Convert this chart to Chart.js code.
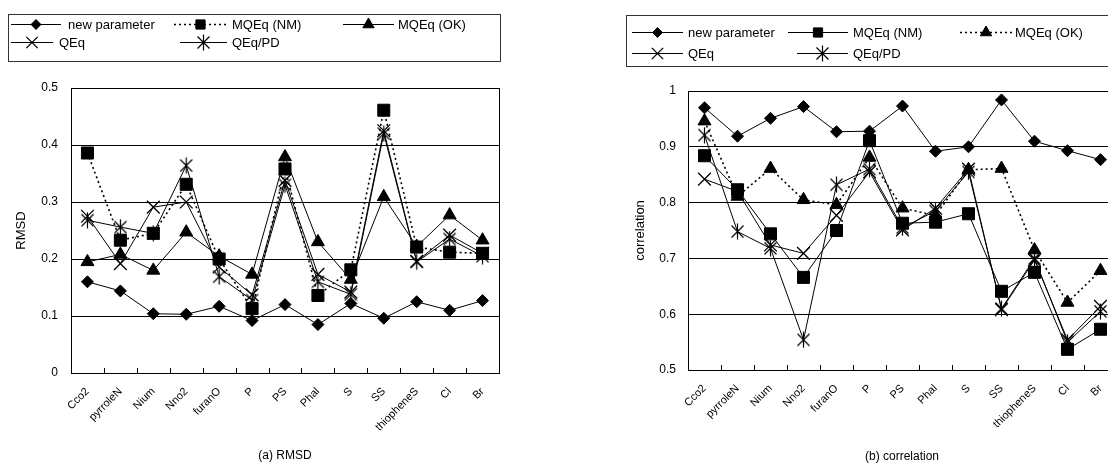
<!DOCTYPE html>
<html>
<head>
    <title>RMSD and correlation</title>
    <script src="https://cdn.jsdelivr.net/npm/chart.js"></script>
    <style>
        body {
            margin: 0;
            width: 1108px;
            height: 464px;
            overflow: hidden;
            background: white;
            position: relative;
            font-family: "Liberation Sans", Arial, sans-serif;
        }
        .panel { position: absolute; top: 0; height: 464px; }
        .caption {
            position: absolute;
            font-size: 12px;
            color: #000;
            transform: translateX(-50%);
            white-space: nowrap;
        }
    </style>
</head>
<body>
    <div class="panel" style="left:0; width:550px;"><canvas id="rmsd-chart"></canvas></div>
    <div class="panel" style="left:610px; width:520px;"><canvas id="corr-chart"></canvas></div>
    <div class="caption" style="left:285px; top:448px;">(a) RMSD</div>
    <div class="caption" style="left:902px; top:449px;">(b) correlation</div>

    <script>
        // categories
        const categories = ['Cco2', 'pyrroleN', 'Nium', 'Nno2', 'furanO', 'P', 'PS', 'Phal', 'S', 'SS', 'thiopheneS', 'Cl', 'Br'];
        const seriesNames = ['new parameter', 'MQEq (NM)', 'MQEq (OK)', 'QEq', 'QEq/PD'];

        // (a) RMSD
        const rmsdNew  = [0.160, 0.144, 0.104, 0.103, 0.117, 0.092, 0.120, 0.085, 0.122, 0.096, 0.125, 0.110, 0.127];
        const rmsdNM   = [0.386, 0.233, 0.245, 0.331, 0.200, 0.113, 0.358, 0.136, 0.181, 0.461, 0.221, 0.212, 0.210];
        const rmsdOK   = [0.195, 0.208, 0.180, 0.247, 0.205, 0.173, 0.379, 0.230, 0.164, 0.309, 0.222, 0.277, 0.233];
        const rmsdQEq  = [0.275, 0.192, 0.291, 0.300, 0.186, 0.137, 0.338, 0.173, 0.142, 0.425, 0.196, 0.242, 0.210];
        const rmsdPD   = [0.268, 0.256, 0.245, 0.364, 0.169, 0.128, 0.330, 0.160, 0.138, 0.420, 0.195, 0.235, 0.205];
        const rmsdTicks = [0, 0.1, 0.2, 0.3, 0.4, 0.5];

        // (b) correlation
        const corrNew  = [0.970, 0.919, 0.951, 0.972, 0.927, 0.928, 0.973, 0.892, 0.900, 0.984, 0.910, 0.893, 0.877];
        const corrNM   = [0.884, 0.823, 0.744, 0.666, 0.750, 0.911, 0.763, 0.765, 0.780, 0.641, 0.675, 0.537, 0.573];
        const corrOK   = [0.946, 0.811, 0.861, 0.805, 0.796, 0.881, 0.790, 0.777, 0.859, 0.861, 0.715, 0.621, 0.678];
        const corrQEq  = [0.842, 0.820, 0.724, 0.709, 0.777, 0.855, 0.751, 0.790, 0.860, 0.608, 0.697, 0.554, 0.614];
        const corrPD   = [0.921, 0.748, 0.718, 0.554, 0.832, 0.860, 0.755, 0.785, 0.855, 0.610, 0.700, 0.550, 0.605];
        const corrTicks = [0.5, 0.6, 0.7, 0.8, 0.9, 1];

        // asterisk marker (x with a vertical bar)
        function makeAsterisk() {
            const c = document.createElement('canvas');
            c.width = 15; c.height = 17;
            const g = c.getContext('2d');
            g.strokeStyle = '#000';
            g.lineWidth = 1.2;
            g.beginPath();
            g.moveTo(7.5, 0.5); g.lineTo(7.5, 16.5);
            g.moveTo(1.5, 2.5); g.lineTo(13.5, 14.5);
            g.moveTo(13.5, 2.5); g.lineTo(1.5, 14.5);
            g.stroke();
            return c;
        }
        const asterisk = makeAsterisk();

        const dotted = [2, 3];

        function makeDatasets(values, dottedIndex) {
            const styles = [
                { pointStyle: 'rectRot', pointRadius: 6, pw: 1 },
                { pointStyle: 'rect', pointRadius: 8.5, pw: 1 },
                { pointStyle: 'triangle', pointRadius: 7.5, pw: 1 },
                { pointStyle: 'crossRot', pointRadius: 9, pw: 1.3 },
                { pointStyle: asterisk, pointRadius: 7, pw: 1 }
            ];
            return values.map((v, i) => ({
                label: seriesNames[i],
                data: v,
                borderColor: '#000',
                backgroundColor: '#000',
                pointBackgroundColor: '#000',
                pointBorderColor: '#000',
                pointBorderWidth: styles[i].pw,
                borderWidth: i === dottedIndex ? 1.6 : 1,
                borderDash: i === dottedIndex ? dotted : [],
                pointStyle: styles[i].pointStyle,
                pointRadius: styles[i].pointRadius,
                pointHoverRadius: styles[i].pointRadius,
                tension: 0,
                fill: false
            }));
        }

        // legend box drawn on the canvas, plus the plot frame and inward ticks
        const boxLegend = {
            id: 'boxLegend',
            afterDraw(chart, args, opts) {
                const ctx = chart.ctx;
                const a = chart.chartArea;
                ctx.save();
                ctx.strokeStyle = '#000';
                ctx.lineWidth = 1;
                ctx.strokeRect(Math.round(a.left) + 0.5, Math.round(a.top) + 0.5, Math.round(a.right - a.left), Math.round(a.bottom - a.top));
                const n = categories.length;
                const step = (a.right - a.left) / n;
                ctx.beginPath();
                for (let i = 1; i < n; i++) {
                    const x = Math.round(a.left + i * step) + 0.5;
                    ctx.moveTo(x, a.bottom);
                    ctx.lineTo(x, a.bottom - 5);
                }
                ctx.stroke();

                const b = opts.box;
                ctx.strokeStyle = '#333';
                ctx.strokeRect(b[0] + 0.5, b[1] + 0.5, b[2], b[3]);
                ctx.font = '13px "Liberation Sans", Arial, sans-serif';
                ctx.textBaseline = 'middle';
                ctx.fillStyle = '#000';
                opts.items.forEach(it => {
                    const ds = chart.data.datasets[it.index];
                    ctx.strokeStyle = '#000';
                    ctx.lineWidth = ds.borderWidth;
                    ctx.setLineDash(ds.borderDash);
                    ctx.beginPath();
                    ctx.moveTo(it.x0, it.y + 0.5);
                    ctx.lineTo(it.x1, it.y + 0.5);
                    ctx.stroke();
                    ctx.setLineDash([]);
                    ctx.lineWidth = ds.pointBorderWidth;
                    const r = ds.pointStyle === 'rect' ? 6.5 : ds.pointStyle === 'crossRot' ? 8 : ds.pointRadius - 1;
                    Chart.helpers.drawPoint(ctx, { pointStyle: ds.pointStyle, radius: r, borderWidth: ds.pointBorderWidth }, (it.x0 + it.x1) / 2, it.y + 0.5);
                    ctx.fillText(ds.label, it.tx, it.y + 1);
                });
                ctx.restore();
            }
        };

        function makeChart(id, values, dottedIndex, yMin, yMax, ticks, yTitle, geom, legendOpts) {
            return new Chart(document.getElementById(id), {
                type: 'line',
                data: { labels: categories, datasets: makeDatasets(values, dottedIndex) },
                plugins: [boxLegend],
                options: {
                    responsive: true,
                    maintainAspectRatio: false,
                    animation: false,
                    layout: { padding: { top: geom.top, right: geom.right, left: 0, bottom: 0 } },
                    plugins: {
                        legend: { display: false },
                        tooltip: { enabled: false },
                        boxLegend: legendOpts
                    },
                    scales: {
                        x: {
                            offset: true,
                            grid: { display: false, offset: true },
                            border: { color: '#000', width: 1 },
                            ticks: {
                                autoSkip: false,
                                maxRotation: 45,
                                minRotation: 45,
                                padding: 4,
                                color: '#000',
                                font: { family: '"Liberation Sans", Arial, sans-serif', size: 11 }
                            },
                            afterFit: s => { s.height = geom.xHeight; }
                        },
                        y: {
                            min: yMin,
                            max: yMax,
                            afterBuildTicks: s => { s.ticks = ticks.map(v => ({ value: v })); },
                            grid: { color: '#000', lineWidth: 1, drawTicks: false },
                            border: { color: '#000', width: 1 },
                            ticks: {
                                padding: geom.tickPad,
                                color: '#000',
                                callback: v => String(v),
                                font: { family: '"Liberation Sans", Arial, sans-serif', size: 12 }
                            },
                            title: {
                                display: true,
                                text: yTitle,
                                color: '#000',
                                padding: { top: geom.titlePad, bottom: 0 },
                                font: { family: '"Liberation Sans", Arial, sans-serif', size: 13 }
                            },
                            afterFit: s => { s.width = geom.yWidth; }
                        }
                    }
                }
            });
        }

        makeChart('rmsd-chart', [rmsdNew, rmsdNM, rmsdOK, rmsdQEq, rmsdPD], 1, 0, 0.5, rmsdTicks, 'RMSD',
            { top: 88, right: 51, xHeight: 91, yWidth: 71, tickPad: 13, titlePad: 14 },
            {
                box: [8, 14, 492, 47],
                items: [
                    { index: 0, x0: 11, x1: 61, y: 24, tx: 68 },
                    { index: 1, x0: 174, x1: 227, y: 24, tx: 232 },
                    { index: 2, x0: 343, x1: 394, y: 24, tx: 398 },
                    { index: 3, x0: 11, x1: 53, y: 42, tx: 59 },
                    { index: 4, x0: 180, x1: 227, y: 42, tx: 232 }
                ]
            });

        makeChart('corr-chart', [corrNew, corrNM, corrOK, corrQEq, corrPD], 2, 0.5, 1, corrTicks, 'correlation',
            { top: 91, right: 13, xHeight: 94, yWidth: 78, tickPad: 12, titlePad: 23 },
            {
                box: [16, 15, 520, 51],
                items: [
                    { index: 0, x0: 22, x1: 73, y: 32, tx: 78 },
                    { index: 1, x0: 178, x1: 238, y: 32, tx: 243 },
                    { index: 2, x0: 350, x1: 402, y: 32, tx: 405 },
                    { index: 3, x0: 22, x1: 73, y: 53, tx: 78 },
                    { index: 4, x0: 187, x1: 238, y: 53, tx: 243 }
                ]
            });
    </script>
</body>
</html>
